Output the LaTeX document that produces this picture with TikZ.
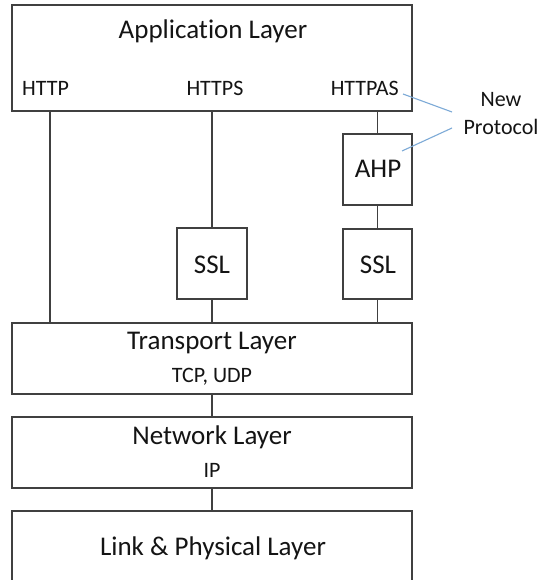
\documentclass[tikz,border=0pt]{standalone}
\usepackage{fontspec}
\setmainfont{Carlito}[Ligatures=NoCommon]
\definecolor{edge}{RGB}{64,64,64}
\definecolor{callout}{RGB}{125,170,215}
\definecolor{ink}{RGB}{20,20,20}
\begin{document}
\begin{tikzpicture}[x=1pt,y=-1pt,
  box/.style={draw=edge, line width=1.3pt, rectangle, inner sep=0pt, fill=white},
  big/.style={font=\fontsize{27}{31}\selectfont, text=ink, inner sep=0pt},
  small/.style={font=\fontsize{22}{26}\selectfont, text=ink, inner sep=0pt},
  conn/.style={draw=edge, line width=1.3pt},
  note/.style={draw=callout, line width=1.1pt}]
\useasboundingbox (0,0) rectangle (542,580);
\clip (0,0) rectangle (542,580);
\fill[white] (0,0) rectangle (542,580);

% boxes
\node[box, minimum width=400pt, minimum height=106pt] (app) at (212,58) {};
\node[box, minimum width=69pt, minimum height=71pt] (ahp) at (377.5,169.5) {};
\node[box, minimum width=69pt, minimum height=70pt] (ssltwo) at (377.5,264) {};
\node[box, minimum width=70pt, minimum height=71pt] (sslone) at (212,263.5) {};
\node[box, minimum width=400pt, minimum height=71pt] (transport) at (212,358.5) {};
\node[box, minimum width=400pt, minimum height=71pt] (network) at (212,452.5) {};
\node[box, minimum width=400pt, minimum height=100pt] (link) at (212,561) {};

% labels
\node[big, anchor=base] (applbl) at (213,39) {Application Layer};
\node[small, anchor=base west] (http) at (22,96) {HTTP};
\node[small, anchor=base] (https) at (215,96) {HTTPS};
\node[small, anchor=base east] (httpas) at (399,96) {HTTPAS};
\node[big, anchor=base] (ahplbl) at (378,177) {AHP};
\node[big, anchor=base] (ssltwolbl) at (378,273) {SSL};
\node[big, anchor=base] (sslonelbl) at (212,273) {SSL};
\node[big, anchor=base] (translbl) at (212,349) {Transport Layer};
\node[small, anchor=base] (tcplbl) at (212,382) {TCP, UDP};
\node[big, anchor=base] (netlbl) at (212,444) {Network Layer};
\node[small, anchor=base] (iplbl) at (212,477) {IP};
\node[big, anchor=base] (linklbl) at (213,555) {Link \& Physical Layer};
\node[small, anchor=base] (newlbl) at (501,107) {New};
\node[small, anchor=base] (protlbl) at (501,135) {Protocol};

% connector x positions
\coordinate (xhttp) at (50,0);
\coordinate (xhttps) at (212,0);
\coordinate (xhttpas) at (377.5,0);

% vertical connectors
\draw[conn] (app.south -| xhttp) -- (transport.north -| xhttp);
\draw[conn] (app.south -| xhttps) -- (sslone.north);
\draw[conn] (sslone.south) -- (transport.north -| xhttps);
\draw[conn] (app.south -| xhttpas) -- (ahp.north);
\draw[conn] (ahp.south) -- (ssltwo.north);
\draw[conn] (ssltwo.south) -- (transport.north -| xhttpas);
\draw[conn] (transport.south) -- (network.north);
\draw[conn] (network.south) -- (link.north);

% callout lines
\coordinate (ca) at (403,94);
\coordinate (cb) at (452,112);
\coordinate (cc) at (452,128);
\coordinate (cd) at (402,151);
\draw[note] (ca) -- (cb);
\draw[note] (cc) -- (cd);
\end{tikzpicture}
\end{document}
